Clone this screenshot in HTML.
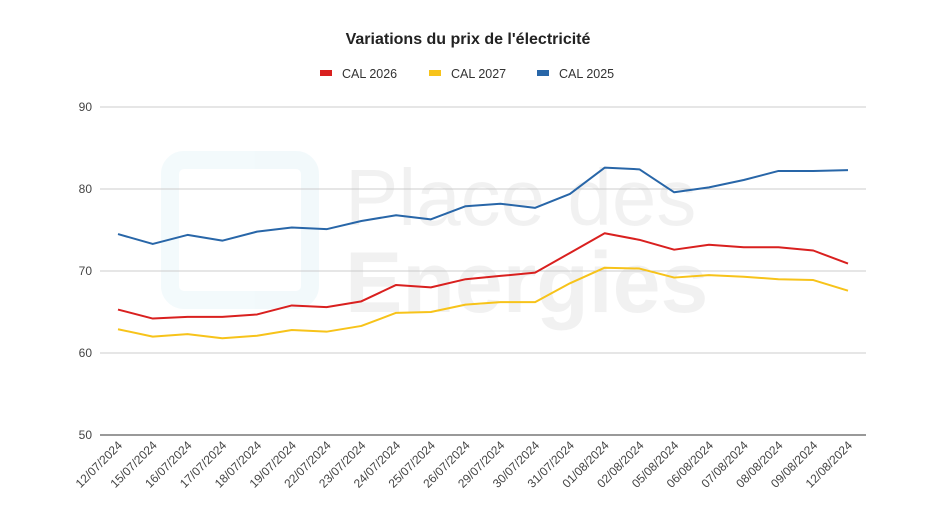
<!DOCTYPE html>
<html><head><meta charset="utf-8"><style>
body{margin:0;background:#fff;font-family:"Liberation Sans",sans-serif}
svg text{font-family:"Liberation Sans",sans-serif}
</style></head><body>
<svg id="chart" width="936" height="526" viewBox="0 0 936 526">
<rect width="936" height="526" fill="#fff"/>
<text x="468" y="44" text-anchor="middle" font-size="16" font-weight="bold" fill="#222">Variations du prix de l'électricité</text>
<g id="legend"></g>
<g id="watermark" opacity="0.05">
<rect x="170" y="160" width="140" height="140" rx="14" fill="none" stroke="#1aa3c8" stroke-width="18"/>
<text x="345" y="225" font-size="80" fill="#000">Place des</text>
<text x="345" y="312" font-size="86" font-weight="bold" fill="#000">Energies</text>
</g>
<g id="grid"></g><g id="xlabels"></g><g id="series"></g>
</svg>
<script>
const categories=["12/07/2024","15/07/2024","16/07/2024","17/07/2024","18/07/2024","19/07/2024","22/07/2024","23/07/2024","24/07/2024","25/07/2024","26/07/2024","29/07/2024","30/07/2024","31/07/2024","01/08/2024","02/08/2024","05/08/2024","06/08/2024","07/08/2024","08/08/2024","09/08/2024","12/08/2024"];
const cal2026=[65.3,64.2,64.4,64.4,64.7,65.8,65.6,66.3,68.3,68.0,69.0,69.4,69.8,72.2,74.6,73.8,72.6,73.2,72.9,72.9,72.5,70.9];
const cal2027=[62.9,62.0,62.3,61.8,62.1,62.8,62.6,63.3,64.9,65.0,65.9,66.2,66.2,68.5,70.4,70.3,69.2,69.5,69.3,69.0,68.9,67.6];
const cal2025=[74.5,73.3,74.4,73.7,74.8,75.3,75.1,76.1,76.8,76.3,77.9,78.2,77.7,79.4,82.6,82.4,79.6,80.2,81.1,82.2,82.2,82.3];
const yTicks=[50,60,70,80,90];
const seriesNames=["CAL 2026","CAL 2027","CAL 2025"];
const seriesColors=["#d9201f","#f7c31a","#2866a8"];
const NS="http://www.w3.org/2000/svg";
const x0=118,x1=848,yBase=435,yTop=107,plotL=100,plotR=866;
const xs=i=>x0+i*(x1-x0)/(categories.length-1);
const ys=v=>yBase-(v-50)/(90-50)*(yBase-yTop);
function mk(t,a,p){const e=document.createElementNS(NS,t);for(const k in a)e.setAttribute(k,a[k]);p.appendChild(e);return e;}
const grid=document.getElementById('grid');
yTicks.forEach(v=>{
 const l=mk('line',{x1:plotL,x2:plotR,y1:ys(v),y2:ys(v),stroke:v===50?'#333':'#ccc','stroke-width':1},grid);
 
 
 const t=mk('text',{x:92,y:ys(v)+4,'text-anchor':'end','font-size':12,fill:'#444'},grid);
 t.textContent=v;
 
 
});
const xl=document.getElementById('xlabels');
categories.forEach((c,i)=>{
 const x=xs(i)+5,y=446;
 const t=mk('text',{x:x,y:y,'text-anchor':'end','font-size':12,fill:'#444',transform:`rotate(-45 ${x} ${y})`},xl);
 t.textContent=c;
 
 
});
const sg=document.getElementById('series');
[cal2026,cal2027,cal2025].forEach((d,k)=>{
 const p=mk('polyline',{points:d.map((v,i)=>xs(i)+','+ys(v)).join(' '),fill:'none',stroke:seriesColors[k],'stroke-width':2,'stroke-linejoin':'round'},sg);
 
 
});
const lg=document.getElementById('legend');
const lx=[320,429,537];
seriesNames.forEach((n,k)=>{
 const g=mk('g',{},lg);
 
 
 mk('rect',{x:lx[k],y:70,width:12,height:6,fill:seriesColors[k]},g);
 const t=mk('text',{x:lx[k]+22,y:78,'font-size':12.5,fill:'#333'},g);
 t.textContent=n;
});
</script>
</body></html>
